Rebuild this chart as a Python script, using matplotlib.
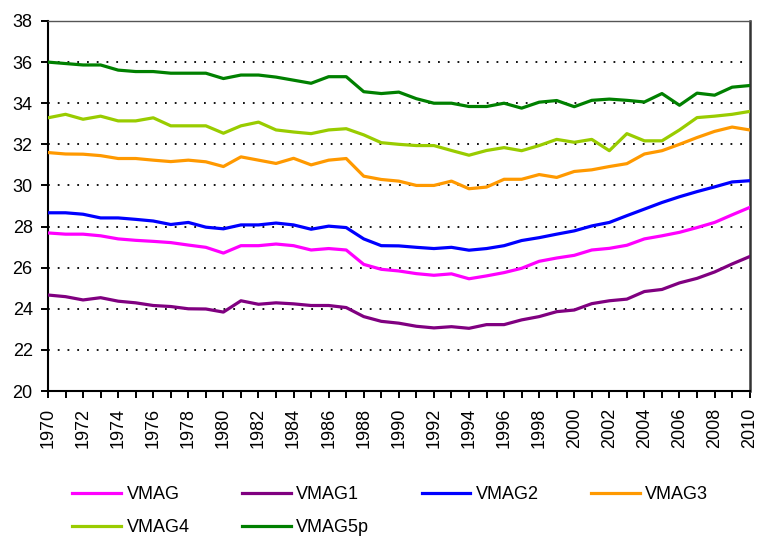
import numpy as np
import matplotlib.pyplot as plt
from matplotlib.ticker import MultipleLocator

plt.rcParams['font.family'] = ['Liberation Sans', 'DejaVu Sans']

# Years 1970-2010
years = np.arange(1970, 2011)

vmag = [27.69, 27.63, 27.63, 27.55, 27.40, 27.33, 27.28, 27.22, 27.10, 26.99,
        26.71, 27.07, 27.07, 27.15, 27.07, 26.86, 26.93, 26.86, 26.16, 25.92,
        25.84, 25.71, 25.63, 25.70, 25.46, 25.60, 25.76, 25.97, 26.31, 26.47,
        26.60, 26.86, 26.94, 27.09, 27.40, 27.55, 27.72, 27.95, 28.20, 28.57,
        28.93]
vmag1 = [24.67, 24.59, 24.43, 24.54, 24.37, 24.29, 24.16, 24.11, 24.00, 23.99,
         23.84, 24.39, 24.22, 24.29, 24.24, 24.16, 24.16, 24.06, 23.62, 23.39,
         23.30, 23.15, 23.07, 23.13, 23.05, 23.23, 23.23, 23.46, 23.62, 23.86,
         23.94, 24.25, 24.39, 24.47, 24.84, 24.94, 25.26, 25.48, 25.79, 26.18,
         26.54]
vmag2 = [28.67, 28.67, 28.60, 28.42, 28.42, 28.35, 28.27, 28.10, 28.20, 27.97,
         27.89, 28.08, 28.08, 28.17, 28.08, 27.87, 28.02, 27.95, 27.40, 27.07,
         27.06, 26.99, 26.93, 26.99, 26.85, 26.93, 27.07, 27.32, 27.46, 27.63,
         27.79, 28.03, 28.20, 28.53, 28.85, 29.17, 29.45, 29.70, 29.93, 30.17,
         30.23]
vmag3 = [31.60, 31.53, 31.52, 31.45, 31.31, 31.31, 31.23, 31.16, 31.23, 31.15,
         30.92, 31.39, 31.23, 31.07, 31.32, 31.00, 31.23, 31.31, 30.45, 30.29,
         30.21, 30.00, 30.00, 30.21, 29.84, 29.92, 30.30, 30.30, 30.53, 30.39,
         30.68, 30.76, 30.92, 31.06, 31.53, 31.69, 32.00, 32.33, 32.63, 32.84,
         32.70]
vmag4 = [33.29, 33.46, 33.22, 33.37, 33.14, 33.14, 33.29, 32.90, 32.90, 32.90,
         32.54, 32.90, 33.08, 32.70, 32.60, 32.52, 32.70, 32.76, 32.46, 32.08,
         32.00, 31.94, 31.94, 31.70, 31.47, 31.70, 31.84, 31.69, 31.94, 32.24,
         32.10, 32.24, 31.69, 32.52, 32.17, 32.17, 32.70, 33.30, 33.37, 33.46,
         33.60]
vmag5p = [36.00, 35.93, 35.86, 35.86, 35.61, 35.54, 35.54, 35.46, 35.46, 35.46,
          35.20, 35.37, 35.37, 35.27, 35.12, 34.97, 35.29, 35.29, 34.56, 34.47,
          34.54, 34.22, 34.00, 34.00, 33.84, 33.84, 34.00, 33.76, 34.05, 34.13,
          33.83, 34.14, 34.20, 34.14, 34.06, 34.47, 33.90, 34.49, 34.39, 34.78,
          34.86]

series = [("VMAG", vmag, "#FF00FF"),
          ("VMAG1", vmag1, "#800080"),
          ("VMAG2", vmag2, "#0000FF"),
          ("VMAG3", vmag3, "#FF9900"),
          ("VMAG4", vmag4, "#99CC00"),
          ("VMAG5p", vmag5p, "#008000")]

fig = plt.figure(figsize=(7.58, 5.38), dpi=100)
ax = fig.add_axes([0.0633, 0.2732, 0.9257, 0.6878])

lines = {}
for name, vals, col in series:
    ln, = ax.plot(years, vals, color=col, lw=2.3, label=name, zorder=3)
    lines[name] = ln

ax.set_xlim(1970, 2010)
ax.set_ylim(20, 38)
ax.yaxis.set_major_locator(MultipleLocator(2))
ax.xaxis.set_major_locator(MultipleLocator(2))
ax.xaxis.set_minor_locator(MultipleLocator(1))

# dotted horizontal gridlines
ax.grid(axis='y', color='black', lw=1.3, linestyle=(0, (1, 4.4)), zorder=1)

ax.tick_params(axis='both', which='both', direction='out', length=5, width=1.4,
               labelsize=13, color='black')
ax.tick_params(axis='y', pad=6)
ax.tick_params(axis='x', pad=7, labelrotation=90)

for s in ['left', 'bottom']:
    ax.spines[s].set_linewidth(1.5)
    ax.spines[s].set_color('black')
ax.spines['top'].set_linewidth(1.0)
ax.spines['top'].set_color('#555555')
ax.spines['right'].set_linewidth(1.8)
ax.spines['right'].set_color('#333333')

# legend order so it reads row by row
order = ["VMAG", "VMAG4", "VMAG1", "VMAG5p", "VMAG2", "VMAG3"]
fig.legend([lines[n] for n in order], order, ncol=4, frameon=False,
           fontsize=13, loc='upper left', bbox_to_anchor=(0.0956, 0.0964),
           handlelength=2.7, handletextpad=0.3, columnspacing=2.9,
           labelspacing=0.9, borderpad=0, borderaxespad=0)

fig.savefig("out.png", dpi=100)
